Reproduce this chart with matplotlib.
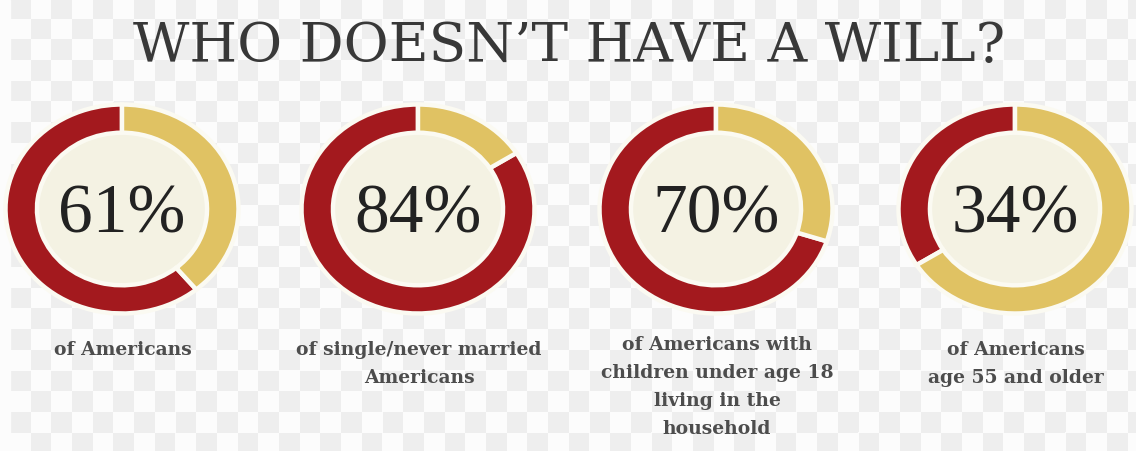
import numpy as np
import matplotlib
matplotlib.use("Agg")
import matplotlib.pyplot as plt
from matplotlib.patches import Ellipse

# ---- data ----
title = "WHO DOESN\u2019T HAVE A WILL?"
percents = [61, 84, 70, 34]
labels = [
    "of Americans",
    "of single/never married\nAmericans",
    "of Americans with\nchildren under age 18\nliving in the\nhousehold",
    "of Americans\nage 55 and older",
]

# ---- style ----
W, H = 1136, 451
RED = "#a3191e"
GOLD = "#e0c263"
CREAM = "#f4f2e3"
centers_x = [122, 418, 716, 1015]
center_y = 209
rx, ry = 116.5, 104.5

fig = plt.figure(figsize=(W / 100, H / 100), dpi=100)
bg = fig.add_axes([0, 0, 1, 1])
bg.set_xlim(0, W)
bg.set_ylim(H, 0)
bg.axis("off")

# checkerboard background
cell = 20.7
x0, y0 = 10, -2
nx = int((W - x0) / cell) + 2
ny = int((H - y0) / cell) + 2
board = np.indices((ny, nx)).sum(axis=0) % 2
bg.imshow(board, cmap=matplotlib.colors.ListedColormap(["#eeeeee", "#fcfcfc"]),
          extent=(x0, x0 + nx * cell, y0 + ny * cell, y0), interpolation="bilinear",
          aspect="auto", zorder=0)
bg.set_xlim(0, W)
bg.set_ylim(H, 0)
bg.add_patch(plt.Rectangle((0, 0), x0, H, color="#fcfcfc", zorder=1))

bg.text(W / 2 + 1, 47, title, ha="center", va="center", fontsize=39.5,
        family="DejaVu Serif", color="#383838", zorder=2)

label_tops = [352, 352, 347, 352]
for cx, lab, ty in zip(centers_x, labels, label_tops):
    bg.text(cx + 1, ty - 11, lab, ha="center", va="top", fontsize=13.5,
            family="DejaVu Serif", fontweight="bold", color="#4d4d4d",
            linespacing=1.72, zorder=2)

for cx, p in zip(centers_x, percents):
    ax = fig.add_axes([(cx - rx) / W, 1 - (center_y + ry) / H, 2 * rx / W, 2 * ry / H])
    ax.pie([p, 100 - p], colors=[RED, GOLD], startangle=90, counterclock=True,
           radius=1.0, wedgeprops=dict(width=0.27, edgecolor="#fbfaf2", linewidth=3.2))
    ax.add_patch(Ellipse((0, 0), 2 * 0.72, 2 * 0.72, color=CREAM, zorder=0.5))
    ax.set_aspect("auto")
    ax.set_xlim(-1, 1)
    ax.set_ylim(-1, 1)
    ax.axis("off")
    ax.text(0, -0.06, f"{p}%", ha="center", va="center", fontsize=50,
            family="Liberation Serif", color="#222222")

fig.savefig("out.png", dpi=100)
